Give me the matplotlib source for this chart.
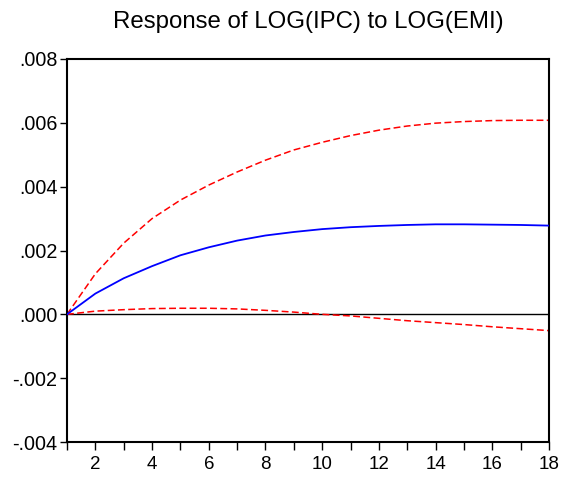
import matplotlib
matplotlib.use("Agg")
import matplotlib.pyplot as plt
from matplotlib.ticker import FixedLocator, FuncFormatter

plt.rcParams['font.family'] = ['Liberation Sans', 'DejaVu Sans']

periods = list(range(1, 19))
response = [0.0, 0.00065, 0.00113, 0.00151, 0.00185, 0.00210, 0.00231, 0.00247, 0.00258,
            0.00267, 0.00273, 0.00277, 0.00280, 0.00282, 0.00282, 0.00281, 0.00280, 0.00278]
upper_band = [0.0, 0.00127, 0.00223, 0.00300, 0.00358, 0.00405, 0.00446, 0.00483, 0.00515,
              0.00539, 0.00560, 0.00577, 0.00590, 0.00599, 0.00604, 0.00607, 0.00608, 0.00608]
lower_band = [0.0, 0.00010, 0.000146, 0.00018, 0.00019, 0.00019, 0.00017, 0.000125, 0.00007,
              0.0, -0.00005, -0.000125, -0.00020, -0.00026, -0.00032, -0.00039, -0.00045, -0.00051]
y_ticks = [-0.004, -0.002, 0.0, 0.002, 0.004, 0.006, 0.008]
x_ticks = [2, 4, 6, 8, 10, 12, 14, 16, 18]
title = "Response of LOG(IPC) to LOG(EMI)"

fig = plt.figure(figsize=(5.62, 4.78), dpi=100)
ax = fig.add_axes([67 / 562, 36 / 478, 482 / 562, 383 / 478])

ax.axhline(0, color='black', linewidth=1.0, zorder=1)
ax.plot(periods, upper_band, color='#ff0000', linewidth=1.1, linestyle=(0, (4.5, 2.2)), zorder=2)
ax.plot(periods, lower_band, color='#ff0000', linewidth=1.1, linestyle=(0, (4.5, 2.2)), zorder=2)
ax.plot(periods, response, color='#0000ff', linewidth=1.3, zorder=3)

ax.set_xlim(1, 18)
ax.set_ylim(-0.004, 0.008)

ax.xaxis.set_major_locator(FixedLocator(x_ticks))
ax.xaxis.set_minor_locator(FixedLocator([p for p in periods if p not in x_ticks]))
ax.yaxis.set_major_locator(FixedLocator(y_ticks))


def fmt(v, _):
    s = f"{v:.3f}"
    return s.replace("0.", ".", 1)


ax.yaxis.set_major_formatter(FuncFormatter(fmt))

ax.tick_params(axis='both', which='both', direction='out', width=1.0, colors='black')
ax.tick_params(axis='x', which='both', length=6, pad=4, labelsize=13.5)
ax.tick_params(axis='y', which='both', length=5, pad=2, labelsize=14.2)
ax.tick_params(top=False, right=False)

for sp in ax.spines.values():
    sp.set_linewidth(1.5)
    sp.set_color('black')

ax.set_title(title, fontsize=17.3, pad=22)

fig.savefig("out.png", dpi=100)
